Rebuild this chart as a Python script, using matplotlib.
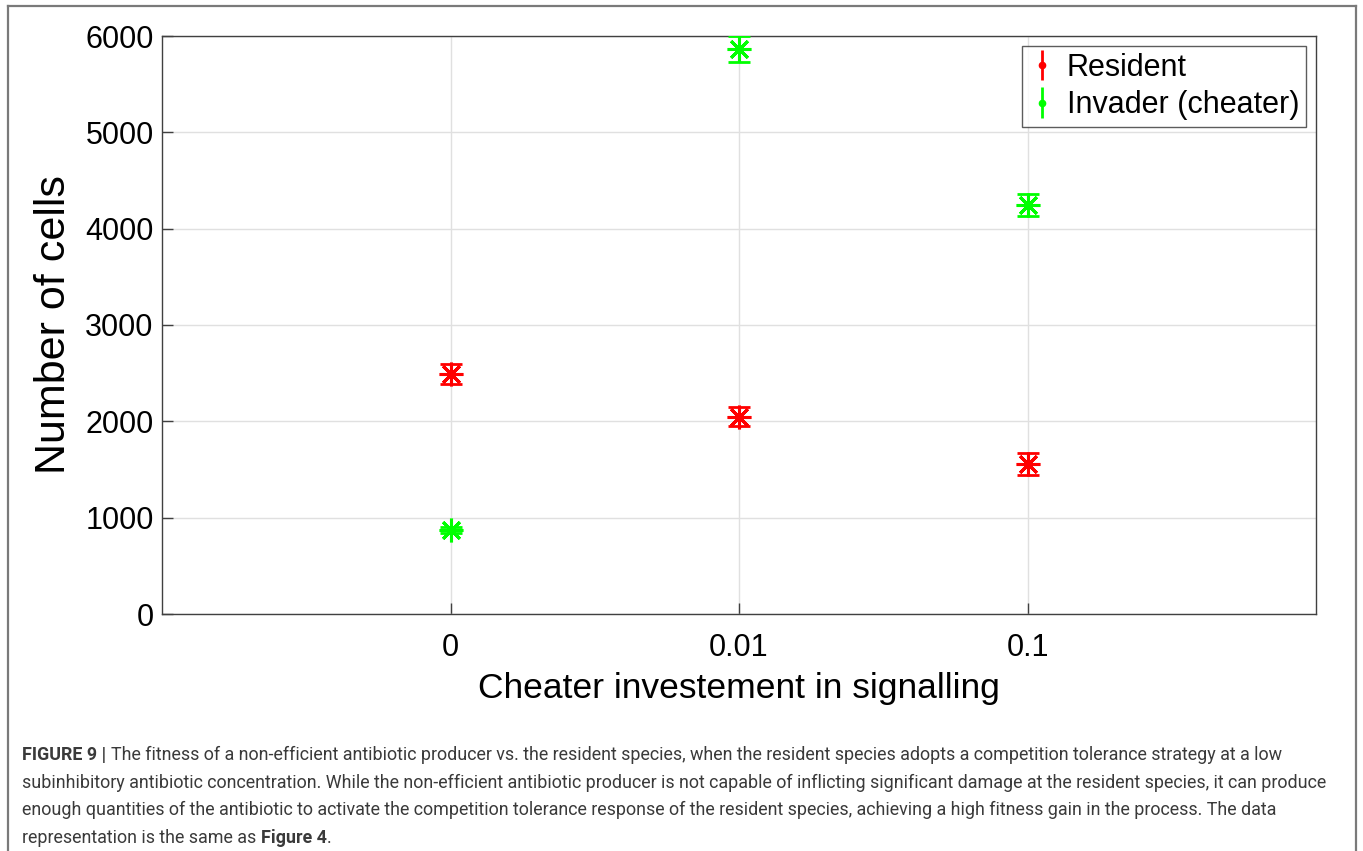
import matplotlib
matplotlib.use("Agg")
import matplotlib.pyplot as plt
from matplotlib.lines import Line2D
from matplotlib import font_manager

# Data
categories = ["0", "0.01", "0.1"]
resident_mean = [2490, 2050, 1560]
resident_err = [100, 100, 115]
invader_mean = [868, 5865, 4250]
invader_err = [30, 135, 115]
y_ticks = [0, 1000, 2000, 3000, 4000, 5000, 6000]

caption_lines = [
    [("FIGURE 9 | ", "bold"),
     ("The fitness of a non-efficient antibiotic producer vs. the resident species, when the resident species adopts a competition tolerance strategy at a low", "normal")],
    [("subinhibitory antibiotic concentration. While the non-efficient antibiotic producer is not capable of inflicting significant damage at the resident species, it can produce", "normal")],
    [("enough quantities of the antibiotic to activate the competition tolerance response of the resident species, achieving a high fitness gain in the process. The data", "normal")],
    [("representation is the same as ", "normal"), ("Figure 4", "bold"), (".", "normal")],
]

W, H, DPI = 1363, 851, 100
plt.rcParams["font.family"] = ["Liberation Sans", "DejaVu Sans"]

fig = plt.figure(figsize=(W / DPI, H / DPI), dpi=DPI)
fig.patch.set_facecolor("white")

# Page frame around chart and caption
frame_kw = dict(color="#7a7a7a", lw=1.6, transform=fig.transFigure)
fig.add_artist(Line2D([8 / W, 8 / W], [0, 1 - 6 / H], **frame_kw))
fig.add_artist(Line2D([1356 / W, 1356 / W], [0, 1 - 6 / H], **frame_kw))
fig.add_artist(Line2D([8 / W, 1356 / W], [1 - 6 / H, 1 - 6 / H], **frame_kw))

ax = fig.add_axes([162 / W, 1 - 614 / H, (1316 - 162) / W, (614 - 36) / H])

x = list(range(1, len(categories) + 1))
red = "#ff0000"
green = "#00ff00"
star = (8, 2, 0)

for means, errs, col in [(resident_mean, resident_err, red),
                         (invader_mean, invader_err, green)]:
    ax.errorbar(x, means, yerr=errs, fmt="none", ecolor=col, elinewidth=2.0,
                capsize=8, capthick=2.0, zorder=3)
    ax.plot(x, means, linestyle="none", marker=star, markersize=17,
            markeredgewidth=2.2, color=col, zorder=4)

# Legend entries drawn as errorbar glyphs
h_res = ax.errorbar([], [], yerr=[], fmt=".", color=red, ecolor=red,
                    markersize=9, elinewidth=2, capsize=5, capthick=2, label="Resident")
h_inv = ax.errorbar([], [], yerr=[], fmt=".", color=green, ecolor=green,
                    markersize=9, elinewidth=2, capsize=5, capthick=2,
                    label="Invader (cheater)")
leg = ax.legend(handles=[h_res, h_inv], loc="upper right", fontsize=22,
                frameon=True, fancybox=False, edgecolor="#333333",
                handlelength=0.9, handletextpad=0.35, borderpad=0.22,
                labelspacing=0.25, borderaxespad=0.0,
                bbox_to_anchor=((1306 - 162) / 1154, 1 - 10 / 578))
leg.get_frame().set_linewidth(1.0)

ax.set_xlim(0, 4)
ax.set_ylim(0, 6000)
ax.set_xticks(x)
ax.set_xticklabels(categories)
ax.set_yticks(y_ticks)
ax.grid(True, color="#e0e0e0", linewidth=1.0, zorder=0)
ax.set_axisbelow(True)
for s in ax.spines.values():
    s.set_color("#404040")
    s.set_linewidth(1.0)
ax.tick_params(direction="in", length=8, width=1.0, color="#404040",
               labelsize=22, top=False, right=False)
ax.tick_params(axis="x", pad=14)
ax.tick_params(axis="y", pad=6)
ax.set_xlabel("Cheater investement in signalling", fontsize=25.5, labelpad=6)
ax.set_ylabel("Number of cells", fontsize=31, labelpad=8)

# Caption, laid out run by run and scaled to the text column width
fig.canvas.draw()
renderer = fig.canvas.get_renderer()
installed = {f.name for f in font_manager.fontManager.ttflist}
cap_family = [f for f in ["Liberation Sans Narrow", "Roboto", "Liberation Sans"]
              if f in installed][:1] + ["DejaVu Sans"]
cap_color = "#3a3a3a"
x0_px = 22
column_px = 1332 - x0_px
baselines = [760, 788, 815, 843]


def line_width(runs, size):
    total = 0.0
    for txt, weight in runs:
        t = fig.text(0, 0, txt, fontsize=size, fontweight=weight, family=cap_family)
        total += t.get_window_extent(renderer=renderer).width
        t.remove()
    return total


base = 13.0
widest = max(line_width(r, base) for r in caption_lines[:3])
cap_size = base * column_px / widest

for runs, yb in zip(caption_lines, baselines):
    xp = x0_px
    for txt, weight in runs:
        t = fig.text(xp / W, 1 - yb / H, txt, fontsize=cap_size,
                     fontweight=weight, color=cap_color, family=cap_family,
                     ha="left", va="baseline")
        xp += t.get_window_extent(renderer=renderer).width

fig.savefig("out.png", dpi=DPI)
